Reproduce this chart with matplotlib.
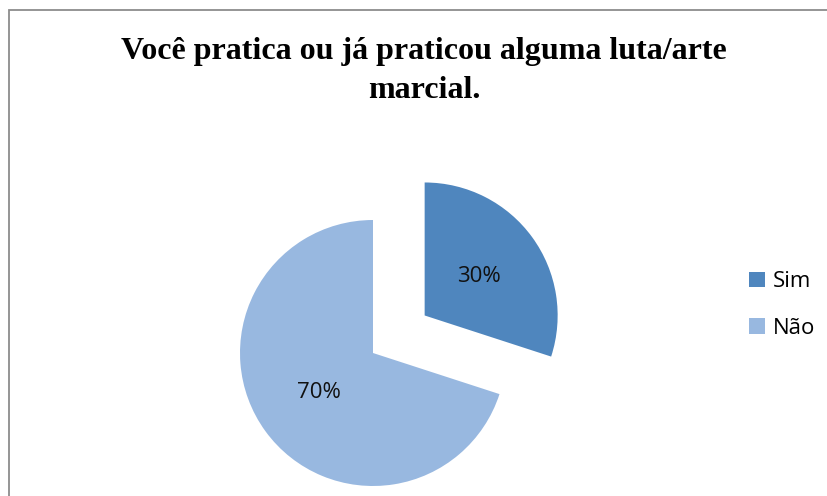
import matplotlib
matplotlib.use("Agg")
import matplotlib.pyplot as plt
from matplotlib.patches import Rectangle

# data
labels = ['Sim', 'Não']
values = [30, 70]
colors = ['#4F86BE', '#98B8E0']
explode = [0.48, 0]

title = 'Você pratica ou já praticou alguma luta/arte\nmarcial.'

W, H = 827, 496
R = 133.0          # pie radius in pixels
cx, cy = 373, H - 353  # pie centre (pixels from bottom-left)

fig = plt.figure(figsize=(W / 100, H / 100), dpi=100)
ax = fig.add_axes([0, 0, 1, 1])

wedges, texts, autotexts = ax.pie(
    values, explode=explode, colors=colors, startangle=90,
    counterclock=False, autopct='%1.0f%%', pctdistance=0.5,
    textprops=dict(fontsize=16, family='Open Sans', color='#111111'),
    frame=True)
ax.set_xlim(-cx / R, (W - cx) / R)
ax.set_ylim(-cy / R, (H - cy) / R)
ax.set_aspect('auto')
ax.axis('off')

# outer border (only top and left visible in the reference)
fig.add_artist(Rectangle((9 / W, -0.1), 1.2, (H - 10) / H + 0.1,
                         transform=fig.transFigure, fill=False,
                         edgecolor='#8c8c8c', linewidth=1.3))

fig.text(424 / W, 1 - 71 / H, title, ha='center', va='center',
         fontsize=23, fontweight='bold', family='Liberation Serif',
         linespacing=1.45)

# legend
leg = fig.legend(wedges, labels, loc='center left',
                 bbox_to_anchor=(729 / W, 1 - 305 / H), frameon=False,
                 prop=dict(family='Open Sans', size=16),
                 handlelength=0.72, handleheight=0.72, handletextpad=0.35,
                 labelspacing=1.15)

fig.savefig('out.png', dpi=100)
